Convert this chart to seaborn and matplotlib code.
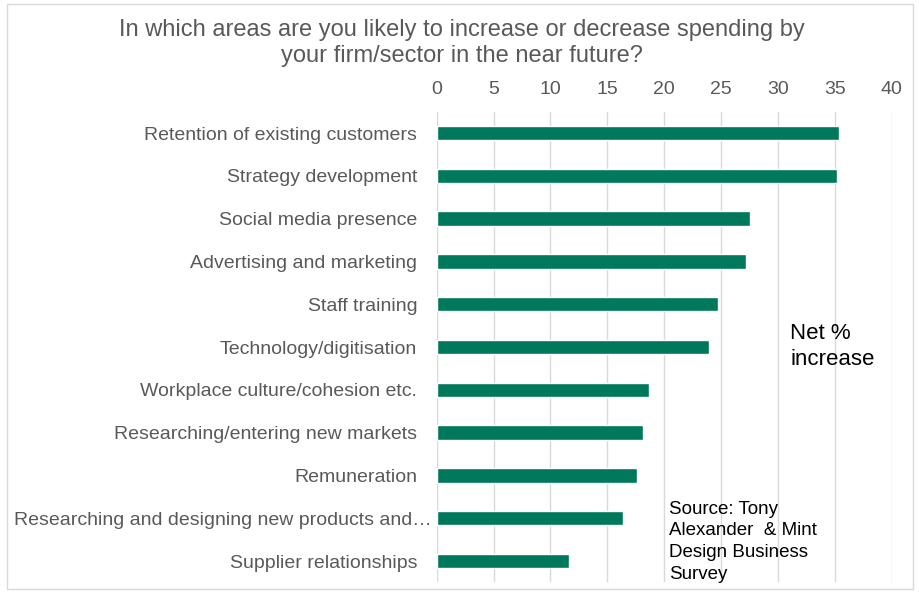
import matplotlib
matplotlib.use("Agg")
import matplotlib.pyplot as plt
import matplotlib.transforms as mtransforms
import seaborn as sns
import pandas as pd
from matplotlib.patches import Rectangle

categories = [
    "Retention of existing customers",
    "Strategy development",
    "Social media presence",
    "Advertising and marketing",
    "Staff training",
    "Technology/digitisation",
    "Workplace culture/cohesion etc.",
    "Researching/entering new markets",
    "Remuneration",
    "Researching and designing new products and…",
    "Supplier relationships",
]
net_increase = [35.4, 35.2, 27.5, 27.2, 24.7, 23.9, 18.7, 18.1, 17.6, 16.4, 11.6]
x_ticks = [0, 5, 10, 15, 20, 25, 30, 35, 40]

title = ("In which areas are you likely to increase or decrease spending by\n"
         "your firm/sector in the near future?")

sns.set_theme(style="white")
plt.rcParams["font.family"] = ["Liberation Sans", "DejaVu Sans"]

df = pd.DataFrame({"area": categories, "net": net_increase})

fig = plt.figure(figsize=(9.2, 5.94), dpi=100)
ax = fig.add_axes([0.4747, 0.0195, 0.4946, 0.7926])

sns.barplot(data=df, x="net", y="area", orient="h", color="#00785C",
            saturation=1, width=0.34, ax=ax)

ax.set_xlim(0, 40)
ax.set_xticks(x_ticks)
ax.xaxis.tick_top()
ax.tick_params(axis="x", length=0, pad=10, labelsize=14, labelcolor="#595959")
ax.tick_params(axis="y", length=0, pad=14, labelsize=14, labelcolor="#595959")
ax.set_xlabel("")
ax.set_ylabel("")
ax.grid(axis="x", color="#D9D9D9", linewidth=1)
ax.set_axisbelow(True)
for s in ax.spines.values():
    s.set_visible(False)

# the long truncated label runs right up to its bar
for lab in ax.get_yticklabels():
    if lab.get_text().endswith("…"):
        lab.set_transform(lab.get_transform() +
                          mtransforms.ScaledTranslation(14 / 100, 0, fig.dpi_scale_trans))

fig.text(0.502, 0.928, title, ha="center", va="center", fontsize=17,
         color="#595959", linespacing=1.25)
fig.text(0.859, 0.416, "Net %\nincrease", ha="left", va="center",
         fontsize=16, color="#000000", linespacing=1.3)
fig.text(0.727, 0.088, "Source: Tony\nAlexander  & Mint\nDesign Business\nSurvey",
         ha="left", va="center", fontsize=13.5, color="#000000", linespacing=1.36)

# light frame around the whole chart
fig.patches.append(Rectangle((0.008, 0.008), 0.984, 0.985, transform=fig.transFigure,
                             fill=False, edgecolor="#D9D9D9", linewidth=1))

fig.savefig("out.png", dpi=100)
